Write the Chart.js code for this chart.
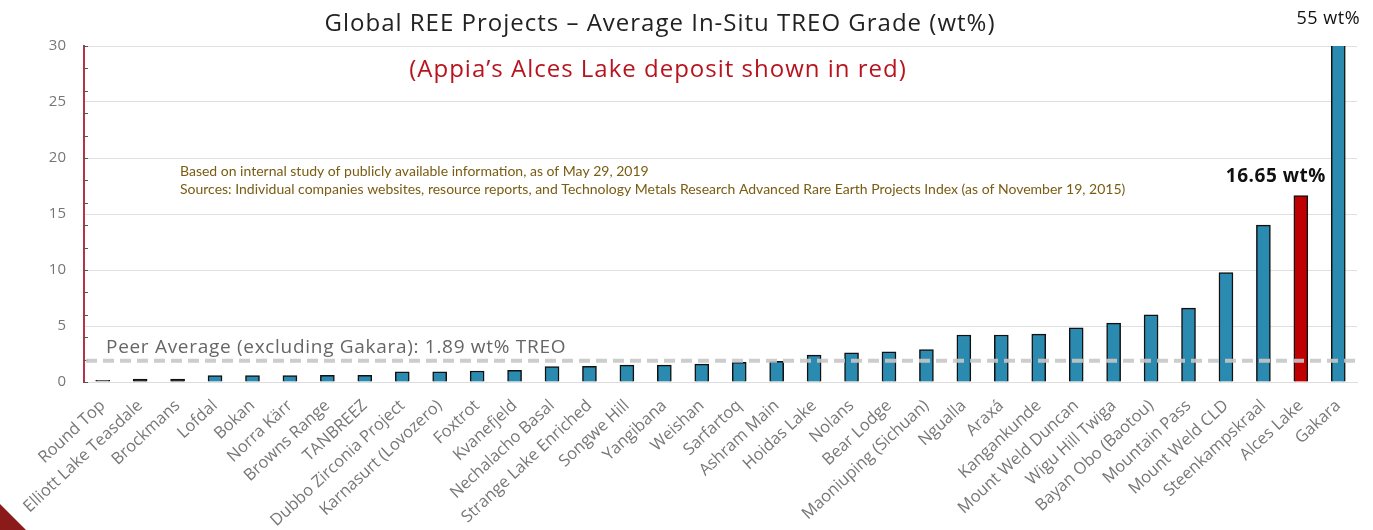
<!DOCTYPE html>
<html>
<head>
<meta charset="utf-8">
<script src="https://cdn.jsdelivr.net/npm/chart.js@4"></script>
<style>
  html, body { margin: 0; padding: 0; background: #fff; }
  #wrap { position: relative; width: 1373px; height: 530px; overflow: hidden; }
  #corner { position: absolute; left: 0; bottom: 0; width: 0; height: 0;
    border-bottom: 26px solid #8b1a1a; border-right: 26px solid transparent; }
</style>
</head>
<body>
<div id="wrap">
  <canvas id="chart" width="1373" height="530"></canvas>
  <div id="corner"></div>
</div>
<script>
const projects = ['Round Top', 'Elliott Lake Teasdale', 'Brockmans', 'Lofdal', 'Bokan', 'Norra Kärr',
  'Browns Range', 'TANBREEZ', 'Dubbo Zirconia Project', 'Karnasurt (Lovozero)', 'Foxtrot', 'Kvanefjeld',
  'Nechalacho Basal', 'Strange Lake Enriched', 'Songwe Hill', 'Yangibana', 'Weishan', 'Sarfartoq',
  'Ashram Main', 'Hoidas Lake', 'Nolans', 'Bear Lodge', 'Maoniuping (Sichuan)', 'Ngualla', 'Araxá',
  'Kangankunde', 'Mount Weld Duncan', 'Wigu Hill Twiga', 'Bayan Obo (Baotou)', 'Mountain Pass',
  'Mount Weld CLD', 'Steenkampskraal', 'Alces Lake', 'Gakara'];
const grades = [0.15, 0.25, 0.25, 0.57, 0.57, 0.57, 0.6, 0.6, 0.9, 0.9, 0.98, 1.05,
  1.38, 1.4, 1.5, 1.5, 1.6, 1.76, 1.85, 2.4, 2.6, 2.7, 2.9, 4.2, 4.2,
  4.27, 4.83, 5.25, 6.0, 6.6, 9.76, 14.0, 16.65, 55];
const barColors = ['#b3b3b3', '#2b2b2b', '#2b2b2b'];
const peerAverage = 1.89;
const yTicks = [0, 5, 10, 15, 20, 25, 30];
const minorStep = 2;

const colors = projects.map((p, i) => {
  if (p === 'Alces Lake') return '#c00000';
  return barColors[i] || '#2b8ab0';
});

// text with extra letter spacing (canvas letterSpacing)
function spacedText(ctx, text, x, y, spacing) {
  ctx.letterSpacing = spacing + 'px';
  ctx.fillText(text, x, y);
  ctx.letterSpacing = '0px';
}

const overlay = {
  id: 'overlay',
  afterDatasetsDraw(chart) {
    const ctx = chart.ctx;
    const y = chart.scales.y;
    const x = chart.scales.x;
    const area = chart.chartArea;
    ctx.save();
    // minor ticks on the y axis
    ctx.strokeStyle = '#555';
    ctx.lineWidth = 1;
    for (let v = 0; v <= 30; v += minorStep) {
      const py = Math.round(y.getPixelForValue(v)) + 0.5;
      ctx.beginPath();
      ctx.moveTo(area.left - 1, py);
      ctx.lineTo(area.left + 4, py);
      ctx.stroke();
    }
    // peer average dashed line
    const py = y.getPixelForValue(peerAverage);
    ctx.strokeStyle = 'rgba(200,200,200,0.9)';
    ctx.lineWidth = 4;
    ctx.setLineDash([11, 6]);
    ctx.beginPath();
    ctx.moveTo(area.left + 2, py);
    ctx.lineTo(area.right + 4, py);
    ctx.stroke();
    ctx.setLineDash([]);
    // texts
    ctx.fillStyle = '#666';
    ctx.font = '19px "Open Sans"';
    ctx.textAlign = 'left';
    ctx.textBaseline = 'alphabetic';
    spacedText(ctx, 'Peer Average (excluding Gakara): ' + peerAverage + ' wt% TREO', 106, py - 8, 0.7);

    const ai = projects.indexOf('Alces Lake');
    ctx.fillStyle = '#111';
    ctx.font = 'bold 19px "Open Sans"';
    ctx.textAlign = 'center';
    spacedText(ctx, grades[ai] + ' wt%', x.getPixelForValue(ai) - 25, y.getPixelForValue(grades[ai]) - 14, 0.5);

    const gi = projects.indexOf('Gakara');
    ctx.font = '18px "Open Sans"';
    spacedText(ctx, grades[gi] + ' wt%', x.getPixelForValue(gi) - 10, 24, 0.5);

    ctx.fillStyle = '#222';
    ctx.font = '24px "Open Sans"';
    spacedText(ctx, 'Global REE Projects – Average In-Situ TREO Grade (wt%)', 660, 31, 1);
    ctx.fillStyle = '#b8141e';
    ctx.font = '24px "Open Sans"';
    spacedText(ctx, '(Appia’s Alces Lake deposit shown in red)', 658, 77, 1);

    ctx.fillStyle = '#7a5c12';
    ctx.font = '14px Lato';
    ctx.textAlign = 'left';
    ctx.fillText('Based on internal study of publicly available information, as of May 29, 2019', 180, 176);
    ctx.fillText('Sources: Individual companies websites, resource reports, and Technology Metals Research Advanced Rare Earth Projects Index (as of November 19, 2015)', 180, 194);
    ctx.restore();
  }
};

new Chart(document.getElementById('chart'), {
  type: 'bar',
  data: {
    labels: projects,
    datasets: [{
      data: grades,
      backgroundColor: colors,
      borderColor: '#111',
      borderWidth: 1.5,
      barThickness: 14
    }]
  },
  options: {
    responsive: false,
    animation: false,
    layout: { padding: { top: 46, right: 16, left: 0, bottom: 0 } },
    plugins: { legend: { display: false }, tooltip: { enabled: false } },
    scales: {
      x: {
        grid: { display: false },
        border: { color: '#ddd' },
        ticks: {
          color: '#777',
          padding: 6,
          font: { family: 'Open Sans', size: 16.5 },
          minRotation: 43,
          maxRotation: 43,
          autoSkip: false
        },
        afterFit(scale) { scale.height = 148; }
      },
      y: {
        min: 0,
        max: 30,
        afterBuildTicks(scale) { scale.ticks = yTicks.map(v => ({ value: v })); },
        grid: { color: '#e0e0e0', drawTicks: false },
        border: { color: '#b8304a', width: 2 },
        ticks: {
          color: '#777',
          padding: 18,
          font: { family: 'Open Sans', size: 15 }
        },
        afterFit(scale) { scale.width = 84; }
      }
    }
  },
  plugins: [overlay]
});
</script>
</body>
</html>
